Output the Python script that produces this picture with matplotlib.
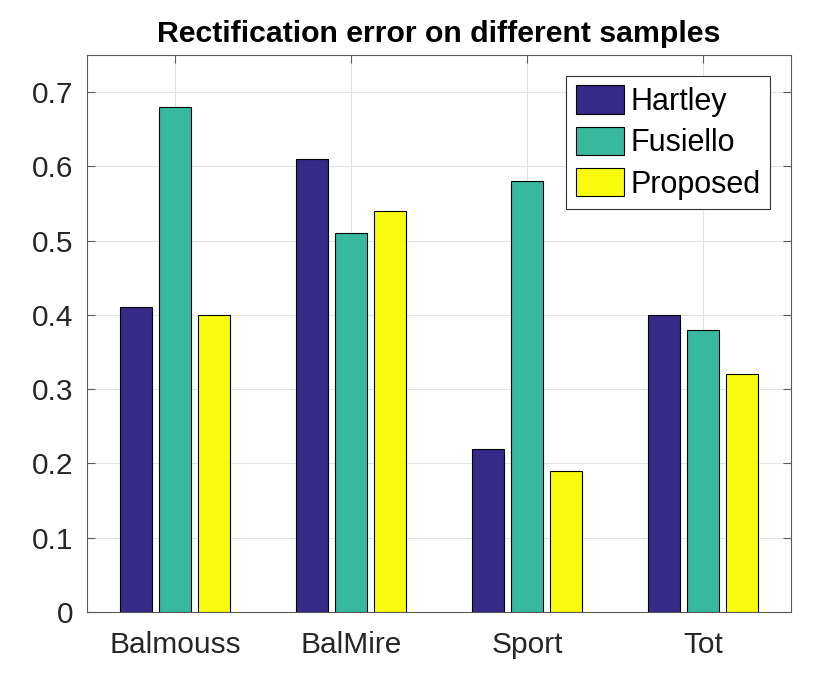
import matplotlib
matplotlib.use("Agg")
import matplotlib.pyplot as plt
import numpy as np

categories = ["Balmouss", "BalMire", "Sport", "Tot"]
series_names = ["Hartley", "Fusiello", "Proposed"]
hartley = [0.41, 0.61, 0.22, 0.40]
fusiello = [0.68, 0.51, 0.58, 0.38]
proposed = [0.40, 0.54, 0.19, 0.32]
yticks = [0, 0.1, 0.2, 0.3, 0.4, 0.5, 0.6, 0.7]

colors = ["#352a87", "#38b99e", "#f9fb0e"]
plt.rcParams['font.family'] = ['Liberation Sans', 'DejaVu Sans']

fig = plt.figure(figsize=(8.3, 6.87), dpi=100)
ax = fig.add_axes([0.1048, 0.1092, 0.8482, 0.8108])

x = np.arange(1, len(categories) + 1)
offsets = [-0.22, 0.0, 0.22]
width = 0.18
for vals, off, c, name in zip([hartley, fusiello, proposed], offsets, colors, series_names):
    ax.bar(x + off, vals, width=width, color=c, edgecolor="black", linewidth=0.8,
           label=name, zorder=3)

ax.set_xlim(0.5, 4.5)
ax.set_ylim(0, 0.75)
ax.set_xticks(x)
ax.set_xticklabels(categories)
ax.set_yticks(yticks)
ax.set_yticklabels([("0" if v == 0 else f"{v:.1f}") for v in yticks])
ax.grid(True, color="#e3e3e3", linewidth=0.8, zorder=0)
ax.set_axisbelow(True)
ax.tick_params(direction="in", length=6, width=0.8, colors="#5a5a5a",
               labelcolor="#262626", labelsize=21.5, top=True, right=True)
ax.tick_params(axis="y", pad=10)
ax.tick_params(axis="x", pad=14)
for s in ax.spines.values():
    s.set_color("#5a5a5a")
    s.set_linewidth(0.8)

ax.set_title("Rectification error on different samples", fontsize=21.8, fontweight="bold", pad=9)

leg = ax.legend(loc="upper right", bbox_to_anchor=(0.97, 0.962), fontsize=22,
                handlelength=1.6, handleheight=1.05, handletextpad=0.2,
                labelspacing=0.32, borderpad=0.3, borderaxespad=0.0,
                fancybox=False, framealpha=1, edgecolor="#333333")
leg.get_frame().set_linewidth(0.8)

fig.savefig("out.png", dpi=100)
